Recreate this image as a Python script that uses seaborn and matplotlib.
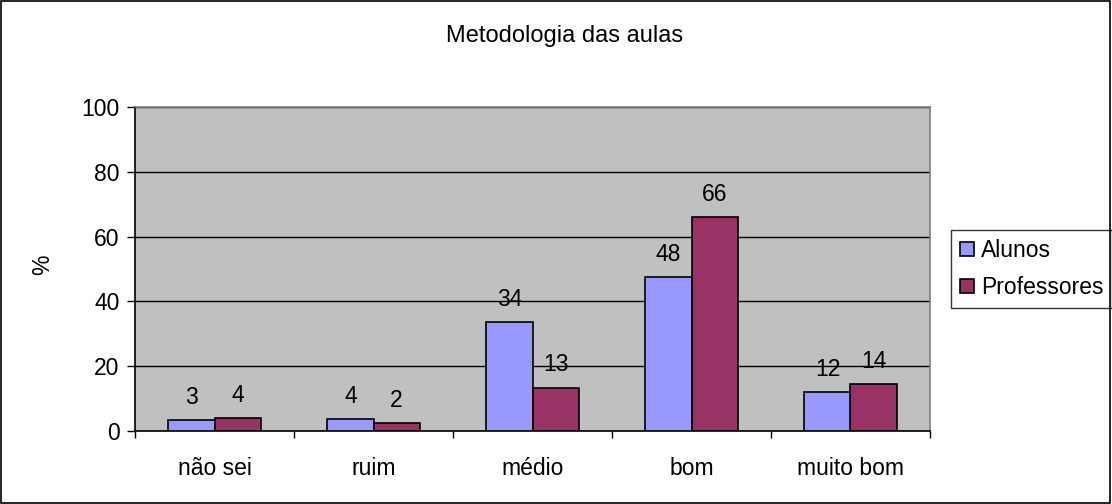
import numpy as np
import pandas as pd
import matplotlib
matplotlib.use("Agg")
import matplotlib.pyplot as plt
import seaborn as sns
from matplotlib.patches import Rectangle
from matplotlib.ticker import FixedLocator

categories = ["não sei", "ruim", "médio", "bom", "muito bom"]
alunos = [3.4, 3.6, 33.6, 47.6, 12.0]
professores = [4.0, 2.4, 13.4, 66.0, 14.4]
series_names = ["Alunos", "Professores"]
colors = ["#9999FF", "#993366"]

df = pd.DataFrame({
    "categoria": categories * 2,
    "valor": alunos + professores,
    "grupo": [series_names[0]] * len(categories) + [series_names[1]] * len(categories),
})

sns.set_theme(style="white")
plt.rcParams["font.family"] = ["Liberation Sans", "DejaVu Sans"]

FS = 16.5
W, H = 1112, 504
fig = plt.figure(figsize=(W / 100, H / 100), dpi=100)
ax = fig.add_axes([135 / W, (H - 431) / H, 795 / W, 324 / H])

sns.barplot(data=df, x="categoria", y="valor", hue="grupo", palette=colors,
            width=0.58, edgecolor="black", linewidth=1.2, saturation=1,
            legend=True, ax=ax, zorder=3)

for cont in ax.containers:
    ax.bar_label(cont, fmt="%.0f", padding=8, fontsize=FS, color="black")

ax.set_facecolor("#C0C0C0")
ax.set_ylim(0, 100)
ax.set_xlim(-0.5, len(categories) - 0.5)
ax.set_yticks([0, 20, 40, 60, 80, 100])
ax.yaxis.grid(True, color="black", linewidth=1)
ax.set_axisbelow(True)
ax.tick_params(axis="y", which="major", length=6, width=1, color="black",
               labelsize=FS, labelcolor="black", pad=5, left=True)
ax.tick_params(axis="x", which="major", length=0, labelsize=FS,
               labelcolor="black", pad=19)
ax.xaxis.set_minor_locator(FixedLocator(np.arange(-0.5, len(categories), 1)))
ax.tick_params(axis="x", which="minor", length=5, width=1, color="black", bottom=True)

for side in ["left", "bottom"]:
    ax.spines[side].set_color("black")
    ax.spines[side].set_linewidth(1.2)
for side in ["top", "right"]:
    ax.spines[side].set_color("#808080")
    ax.spines[side].set_linewidth(1.2)

ax.set_xlabel("")
ax.set_ylabel("")
fig.text(43 / W, 1 - 265 / H, "%", rotation=90, fontsize=FS,
         ha="center", va="center", color="black")
fig.text(565 / W, 1 - 36 / H, "Metodologia das aulas", fontsize=17,
         ha="center", va="center", color="black")

leg = ax.legend(loc="center left", bbox_to_anchor=((951 - 135) / 795, 0.5),
                fontsize=FS, frameon=True, fancybox=False, edgecolor="black",
                handlelength=0.6, handleheight=0.6, handletextpad=0.3,
                borderpad=0.4, labelspacing=0.6, borderaxespad=0)
leg.get_frame().set_linewidth(1)
for t in leg.get_texts():
    t.set_color("black")

fig.patches.append(Rectangle((0.001, 0.002), 0.997, 0.996, transform=fig.transFigure,
                             fill=False, edgecolor="black", linewidth=1.2))

fig.savefig("out.png", dpi=100)
